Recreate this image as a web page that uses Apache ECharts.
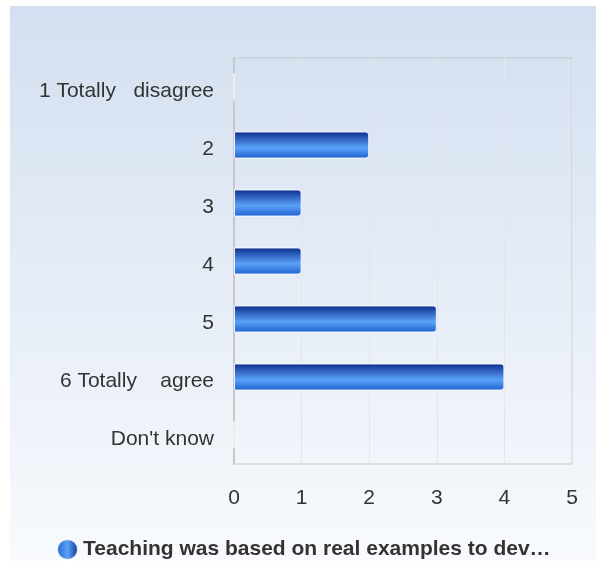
<!DOCTYPE html>
<html>
<head>
<meta charset="utf-8">
<script src="https://cdn.jsdelivr.net/npm/echarts@6/dist/echarts.min.js"></script>
<style>
  html, body { margin: 0; padding: 0; background: #fff; }
  #chart { position: absolute; left: 10px; top: 6px; width: 586px; height: 555px; }
</style>
</head>
<body>
<div id="chart"></div>
<script>
var categories = ['1 Totally   disagree', '2', '3', '4', '5', '6 Totally    agree', "Don't know"];
var counts = [0, 2, 1, 1, 3, 4, 0];
var xTicks = [0, 1, 2, 3, 4, 5];
var seriesName = 'Teaching was based on real examples to dev\u2026';

var myChart = echarts.init(document.getElementById('chart'));

var barFill = new echarts.graphic.LinearGradient(0, 0, 0, 1, [
    { offset: 0, color: '#0b2c8c' },
    { offset: 0.6, color: '#5aa2f8' },
    { offset: 1, color: '#1f5fd0' }
]);

var labelFont = 'Liberation Sans, Arial, sans-serif';

var option = {
    backgroundColor: new echarts.graphic.LinearGradient(0, 0, 0, 1, [
        { offset: 0, color: '#d3dff0' },
        { offset: 1, color: '#f8fafd' }
    ]),
    animation: false,
    grid: { left: 224, top: 52, right: 24, bottom: 97, show: true, borderColor: '#c8c8c8', borderWidth: 1, backgroundColor: 'transparent' },
    legend: {
        left: 41, bottom: -5,
        icon: 'circle', itemWidth: 21, itemHeight: 21, itemGap: 6,
        textStyle: { fontSize: 21, fontWeight: 'bold', color: '#333', fontFamily: labelFont },
        data: [{ name: seriesName, itemStyle: { color: new echarts.graphic.LinearGradient(0, 0, 1, 0, [
            { offset: 0, color: '#1f5fd0' }, { offset: 0.5, color: '#5aa2f8' }, { offset: 1, color: '#0b2c8c' }
        ]) } }]
    },
    xAxis: {
        type: 'value', min: xTicks[0], max: xTicks[xTicks.length - 1], interval: 1,
        axisLine: { show: false }, axisTick: { show: false },
        splitLine: { show: true, lineStyle: { color: '#e2e6ec', width: 1 } },
        axisLabel: { margin: 24, fontSize: 21, color: '#333', fontFamily: labelFont }
    },
    yAxis: {
        type: 'category', inverse: true, data: categories,
        axisLine: { show: true, lineStyle: { color: '#c8c8c8', width: 2 } },
        axisTick: { show: false },
        axisLabel: {
            margin: 20,
            formatter: function (v) { return '{a|' + v + '}'; },
            rich: { a: { fontSize: 21, color: '#333', fontFamily: labelFont, padding: [8, 0, 0, 0] } }
        }
    },
    series: [{
        name: seriesName,
        type: 'bar',
        data: counts,
        barWidth: 27,
        itemStyle: { color: barFill, borderColor: 'rgba(255,255,255,0.85)', borderWidth: 1, borderRadius: [0, 3, 3, 0] }
    }]
};

myChart.setOption(option);
window.addEventListener('resize', function () {
    myChart.resize();
});
</script>
</body>
</html>
